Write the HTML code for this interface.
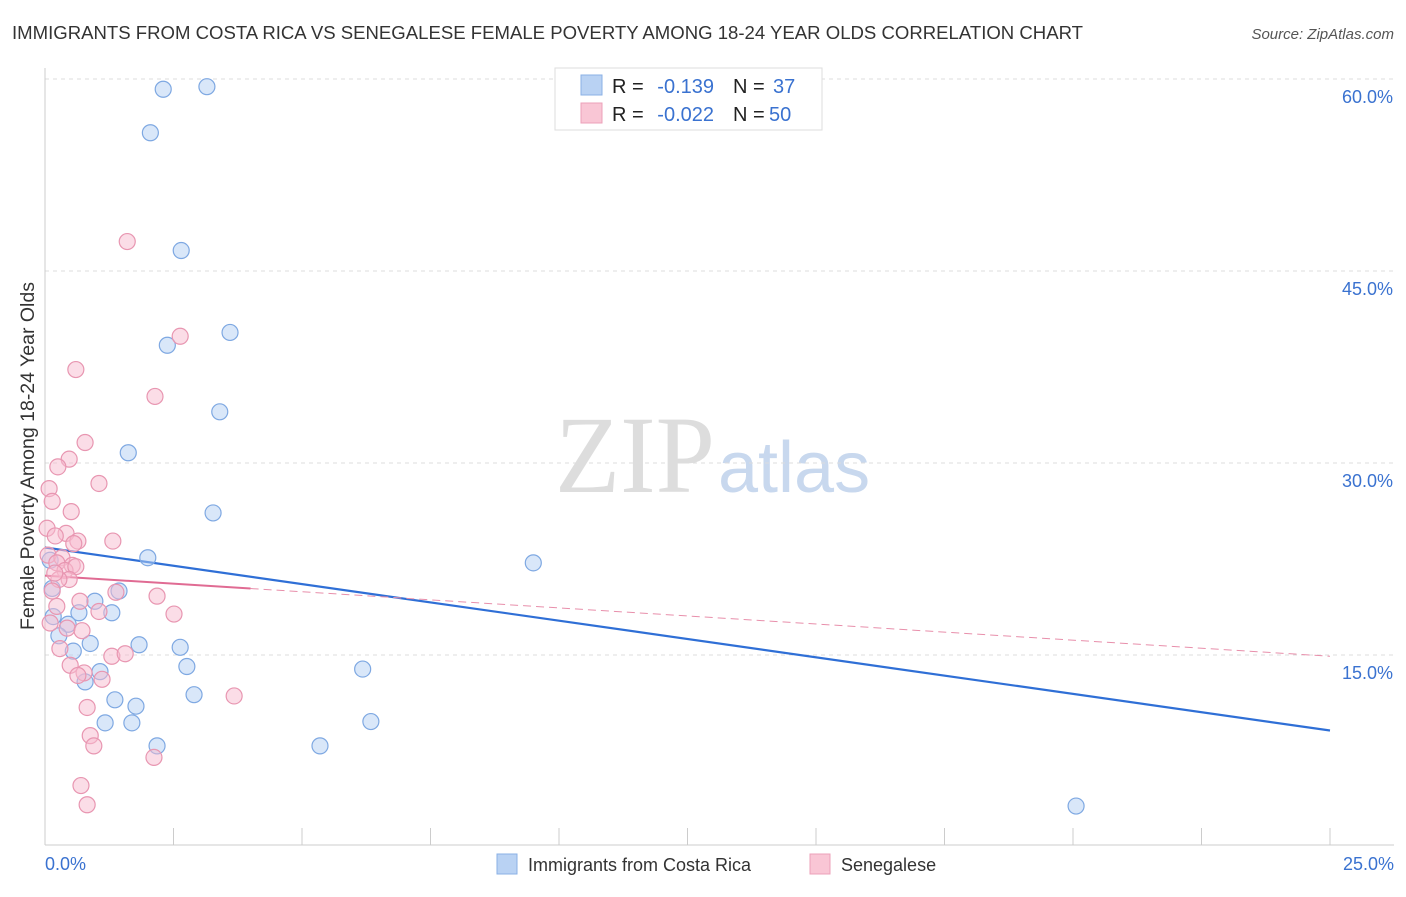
<!DOCTYPE html>
<html><head><meta charset="utf-8"><style>
body{margin:0;background:#fff;font-family:"Liberation Sans",sans-serif}
</style></head><body>
<svg id="c" width="1406" height="892" xmlns="http://www.w3.org/2000/svg">
<text x="12" y="39" font-size="18" fill="#333" textLength="1071" lengthAdjust="spacingAndGlyphs">IMMIGRANTS FROM COSTA RICA VS SENEGALESE FEMALE POVERTY AMONG 18-24 YEAR OLDS CORRELATION CHART</text>
<text x="1394" y="39" font-size="15" fill="#555" font-style="italic" text-anchor="end">Source: ZipAtlas.com</text>
<text x="555" y="492" font-size="110" fill="#ddd" textLength="160" lengthAdjust="spacingAndGlyphs" font-family="Liberation Serif,serif">ZIP</text>
<text x="718" y="492" font-size="72" fill="#c8d8ee">atlas</text>
<text transform="translate(34,456) rotate(-90)" font-size="19" fill="#333" text-anchor="middle" textLength="348" lengthAdjust="spacingAndGlyphs">Female Poverty Among 18-24 Year Olds</text>
<g id="grid"></g><g id="lines"></g><g id="pts"></g>
<g>
<rect x="555" y="68" width="267" height="62" fill="#fff" stroke="#ddd"/>
<rect x="581" y="75" width="21" height="20" fill="#b9d2f3" stroke="#8ab0e6"/>
<rect x="581" y="103" width="21" height="20" fill="#f9c6d5" stroke="#eca0b9"/>
<text x="612" y="93" font-size="20" fill="#222">R =</text>
<text x="714" y="93" font-size="20" fill="#3a72d0" text-anchor="end">-0.139</text>
<text x="733" y="93" font-size="20" fill="#222">N =</text>
<text x="773" y="93" font-size="20" fill="#3a72d0">37</text>
<text x="612" y="121" font-size="20" fill="#222">R =</text>
<text x="714" y="121" font-size="20" fill="#3a72d0" text-anchor="end">-0.022</text>
<text x="733" y="121" font-size="20" fill="#222">N =</text>
<text x="769" y="121" font-size="20" fill="#3a72d0">50</text>
</g>
<g>
<rect x="497" y="854" width="20" height="20" fill="#b9d2f3" stroke="#8ab0e6"/>
<text x="528" y="871" font-size="18" fill="#333">Immigrants from Costa Rica</text>
<rect x="810" y="854" width="20" height="20" fill="#f9c6d5" stroke="#eca0b9"/>
<text x="841" y="871" font-size="18" fill="#333">Senegalese</text>
</g>
</svg>
<script>
const blueX=[2.3,3.15,2.05,2.65,2.38,3.6,3.4,1.62,3.27,2.0,9.5,1.44,0.97,1.3,0.66,0.16,0.45,0.27,0.88,1.83,2.63,0.55,1.07,2.76,6.18,0.78,2.9,1.36,1.77,1.17,1.69,6.34,2.18,5.35,20.06,0.1,0.14];
const blueY=[59.2,59.4,55.8,46.6,39.2,40.2,34.0,30.8,26.1,22.6,22.2,20.0,19.2,18.3,18.3,18.0,17.4,16.5,15.9,15.8,15.6,15.3,13.7,14.1,13.9,12.9,11.9,11.5,11.0,9.7,9.7,9.8,7.9,7.9,3.2,22.4,20.2];
const pinkX=[1.6,2.63,2.14,0.6,0.78,0.47,0.25,1.05,0.08,0.14,0.51,0.04,0.41,0.2,1.32,0.64,0.56,0.06,0.33,0.23,0.53,0.39,0.6,0.47,0.27,0.14,2.18,1.38,0.68,0.23,1.05,2.51,0.43,0.72,0.29,1.3,1.56,0.49,0.76,0.64,1.11,0.82,0.88,0.95,3.68,2.12,0.7,0.82,0.19,0.1];
const pinkY=[47.3,39.9,35.2,37.3,31.6,30.3,29.7,28.4,28.0,27.0,26.2,24.9,24.5,24.3,23.9,23.9,23.7,22.8,22.6,22.2,22.0,21.6,21.9,20.9,20.9,20.0,19.6,19.9,19.2,18.8,18.4,18.2,17.1,16.9,15.5,14.9,15.1,14.2,13.6,13.4,13.1,10.9,8.7,7.9,11.8,7.0,4.8,3.3,21.4,17.5];
const trendNames=['costa-rica','senegalese'];
const trendStart=[23.4,21.2];
const trendEnd=[9.1,14.9];
const yTicks=[15,30,45,60];
const xTickLabels=['0.0%','25.0%'];
const NS='http://www.w3.org/2000/svg';
const sx=v=>45+v*51.4, sy=v=>847-v*12.8;
function mk(t,a,p){const e=document.createElementNS(NS,t);for(const k in a)e.setAttribute(k,a[k]);document.getElementById(p).appendChild(e);return e;}
yTicks.forEach(t=>{
 const g=mk('line',{x1:45,x2:1394,y1:sy(t),y2:sy(t),stroke:'#ddd','stroke-dasharray':'4 4'},'grid');
 
 
 const l=mk('text',{x:1393,y:sy(t)+24,'font-size':18,fill:'#3a72d0','text-anchor':'end'},'grid');
 l.textContent=t.toFixed(1)+'%';
 
 
});
const ax=mk('line',{x1:45,x2:1394,y1:845,y2:845,stroke:'#ccc'},'grid');


const ay=mk('line',{x1:45,x2:45,y1:68,y2:845,stroke:'#ccc'},'grid');


for(let i=0;i<=10;i++){const t=mk('line',{x1:sx(i*2.5),x2:sx(i*2.5),y1:828,y2:845,stroke:'#ccc'},'grid');
 
 }
[[0,'start',45],[1,'end',1394]].forEach(([i,a,x])=>{const t=mk('text',{x:x,y:870,'font-size':18,fill:'#3a72d0','text-anchor':a},'grid');t.textContent=xTickLabels[i];
 
 });
function dots(X,Y,f,s,n){X.forEach((x,i)=>{const c=mk('circle',{cx:sx(x),cy:sy(Y[i]),r:8,fill:f,'fill-opacity':0.5,stroke:s,'stroke-width':1.2},'pts');
 
 });}
dots(blueX,blueY,'#b3cff3','#7ea8e2','point-costa-rica');
dots(pinkX,pinkY,'#f7bccf','#e896b1','point-senegalese');
const b=mk('line',{x1:sx(0),y1:sy(trendStart[0]),x2:sx(25),y2:sy(trendEnd[0]),stroke:'#2f6fd6','stroke-width':2.2},'lines');


const px=4,pm=trendStart[1]+(trendEnd[1]-trendStart[1])*px/25;
const p1=mk('line',{x1:sx(0),y1:sy(trendStart[1]),x2:sx(px),y2:sy(pm),stroke:'#e06b93','stroke-width':2},'lines');


const p2=mk('line',{x1:sx(px),y1:sy(pm),x2:sx(25),y2:sy(trendEnd[1]),stroke:'#e88fab','stroke-width':1,'stroke-dasharray':'8 5'},'lines');


</script>
</body></html>
